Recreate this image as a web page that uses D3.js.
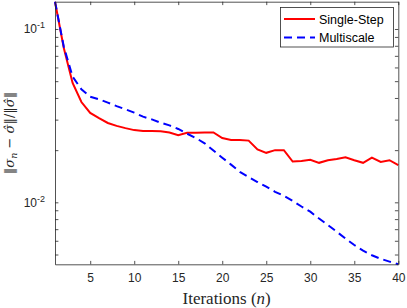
<!DOCTYPE html>
<html>
<head>
<meta charset="utf-8">
<script src="https://cdn.jsdelivr.net/npm/d3@7"></script>
<style>
  body { margin: 0; background: #fff; }
  svg { display: block; font-family: "Liberation Sans", Arial, sans-serif; }
</style>
</head>
<body>
<svg width="407" height="308"></svg>
<script>
// iteration number on x, relative error on y
var iterations = [1, 2, 3, 4, 5, 6, 7, 8, 9, 10, 11, 12, 13, 14, 15, 16, 17, 18, 19, 20,
                  21, 22, 23, 24, 25, 26, 27, 28, 29, 30, 31, 32, 33, 34, 35, 36, 37, 38, 39, 40];

var singleStep = [0.1437, 0.0777, 0.0488, 0.0379, 0.0328, 0.0306, 0.0287, 0.0276, 0.0268, 0.0261,
                  0.0258, 0.0258, 0.0257, 0.0253, 0.0244, 0.0252, 0.0252, 0.0253, 0.0253, 0.0235,
                  0.0229, 0.0229, 0.0227, 0.0202, 0.0193, 0.0200, 0.0200, 0.0172, 0.0173, 0.0176,
                  0.0169, 0.0175, 0.0178, 0.0182, 0.0175, 0.0169, 0.0181, 0.0171, 0.0175, 0.0164];

var multiscale = [0.1437, 0.0790, 0.0531, 0.0449, 0.0407, 0.0393, 0.0376, 0.0359, 0.0344, 0.0329,
                  0.0312, 0.0301, 0.0288, 0.0278, 0.0265, 0.0249, 0.0235, 0.0219, 0.0199, 0.0181,
                  0.0165, 0.0150, 0.0140, 0.0131, 0.0123, 0.0115, 0.0109, 0.0102, 0.00946, 0.00883,
                  0.00806, 0.00740, 0.00677, 0.00618, 0.00567, 0.00526, 0.00495, 0.00472, 0.00455, 0.00439];

var xTicks = [5, 10, 15, 20, 25, 30, 35, 40];
var yMajor = [0.01, 0.1];
var yExp = ["-2", "-1"];
var seriesNames = ["Single-Step", "Multiscale"];
var seriesColors = ["#ff0000", "#0000ff"];

var svg = d3.select("svg"),
    pL = 55, pR = 398.3, pT = 1.7, pB = 264.3,
    axisColor = "#262626", tick = 3.4;

var x = d3.scaleLinear().domain([1, 40]).range([pL, pR]);
var y = d3.scaleLog()
    .domain(d3.extent(singleStep.concat(multiscale)))
    .range([pB, pT]);

var yTickVals = y.ticks();

// lines
var line = d3.line()
    .x(function(d) { return x(d[0]); })
    .y(function(d) { return y(d[1]); });

var series = [singleStep, multiscale];
var dashes = [null, "8,5"];

var plot = svg.append("g");
series.forEach(function(s, k) {
  plot.append("path")
    .datum(iterations.map(function(it, i) { return [it, s[i]]; }))
    .attr("d", line)
    .attr("fill", "none")
    .attr("stroke", seriesColors[k])
    .attr("stroke-width", 2)
    .attr("stroke-dasharray", dashes[k]);
});

// axes, ticks pointing inward on all four sides
function styleAxis(g) {
  g.selectAll("path.domain").attr("stroke", axisColor).attr("stroke-width", 0.8);
  g.selectAll(".tick line").attr("stroke", axisColor).attr("stroke-width", 0.8);
  g.selectAll("text").attr("fill", axisColor);
}

svg.append("g")
    .attr("transform", "translate(0," + pB + ")")
    .call(d3.axisBottom(x).tickValues(xTicks).tickSizeInner(-tick).tickSizeOuter(0).tickPadding(9))
    .call(styleAxis)
    .selectAll("text")
    .attr("font-size", 12)
    .attr("font-family", "Liberation Sans, Arial, sans-serif");

svg.append("g")
    .attr("transform", "translate(0," + pT + ")")
    .call(d3.axisTop(x).tickValues(xTicks).tickSizeInner(-tick).tickSizeOuter(0).tickFormat(""))
    .call(styleAxis);

svg.append("g")
    .attr("transform", "translate(" + pL + ",0)")
    .call(d3.axisLeft(y).tickValues(yTickVals).tickSizeInner(-tick).tickSizeOuter(0).tickFormat(""))
    .call(styleAxis);

svg.append("g")
    .attr("transform", "translate(" + pR + ",0)")
    .call(d3.axisRight(y).tickValues(yTickVals).tickSizeInner(-tick).tickSizeOuter(0).tickFormat(""))
    .call(styleAxis);

// power-of-ten labels
var yl = svg.append("g")
    .selectAll("text")
    .data(yMajor)
    .enter().append("text")
      .attr("x", pL - 10)
      .attr("y", function(d) { return y(d) + 4.5; })
      .attr("text-anchor", "end")
      .attr("font-size", 12)
      .attr("fill", axisColor);
yl.append("tspan").text("10");
yl.append("tspan")
    .attr("font-size", 9)
    .attr("dy", -5)
    .text(function(d, i) { return yExp[i]; });

// axis labels
var xl = svg.append("text")
    .attr("x", (pL + pR) / 2)
    .attr("y", 303.5)
    .attr("text-anchor", "middle")
    .attr("font-family", "Liberation Serif, Times New Roman, serif")
    .attr("font-size", 17)
    .attr("fill", axisColor);
xl.append("tspan").text("Iterations (");
xl.append("tspan").attr("font-style", "italic").text("n");
xl.append("tspan").text(")");

var ylab = svg.append("text")
    .attr("transform", "translate(14," + (pT + pB) / 2 + ") rotate(-90)")
    .attr("text-anchor", "middle")
    .attr("font-family", "DejaVu Serif, serif")
    .attr("font-size", 13)
    .attr("fill", axisColor);
ylab.append("tspan").text("\u2016");
ylab.append("tspan").attr("font-style", "italic").text("\u03c3");
ylab.append("tspan").attr("font-style", "italic").attr("font-size", 9.5).attr("dy", 3).text("n");
ylab.append("tspan").attr("dy", -3).text(" \u2212 ");
ylab.append("tspan").attr("font-style", "italic").text("\u03c3\u0302");
ylab.append("tspan").text("\u2016/\u2016");
ylab.append("tspan").attr("font-style", "italic").text("\u03c3\u0302");
ylab.append("tspan").text("\u2016");

// legend
var legend = svg.append("g");
legend.append("rect")
    .attr("x", 280.5).attr("y", 7.5)
    .attr("width", 113).attr("height", 39.5)
    .attr("fill", "#fff")
    .attr("stroke", axisColor)
    .attr("stroke-width", 0.8);

var rowY = [19, 37.5];
seriesNames.forEach(function(name, k) {
  legend.append("line")
      .attr("x1", 284).attr("x2", 315)
      .attr("y1", rowY[k]).attr("y2", rowY[k])
      .attr("stroke", seriesColors[k])
      .attr("stroke-width", 2)
      .attr("stroke-dasharray", dashes[k]);
  legend.append("text")
      .attr("x", 319)
      .attr("y", rowY[k] + 4.5)
      .attr("font-size", 12.5)
      .attr("fill", "#000")
      .text(name);
});
</script>
</body>
</html>
